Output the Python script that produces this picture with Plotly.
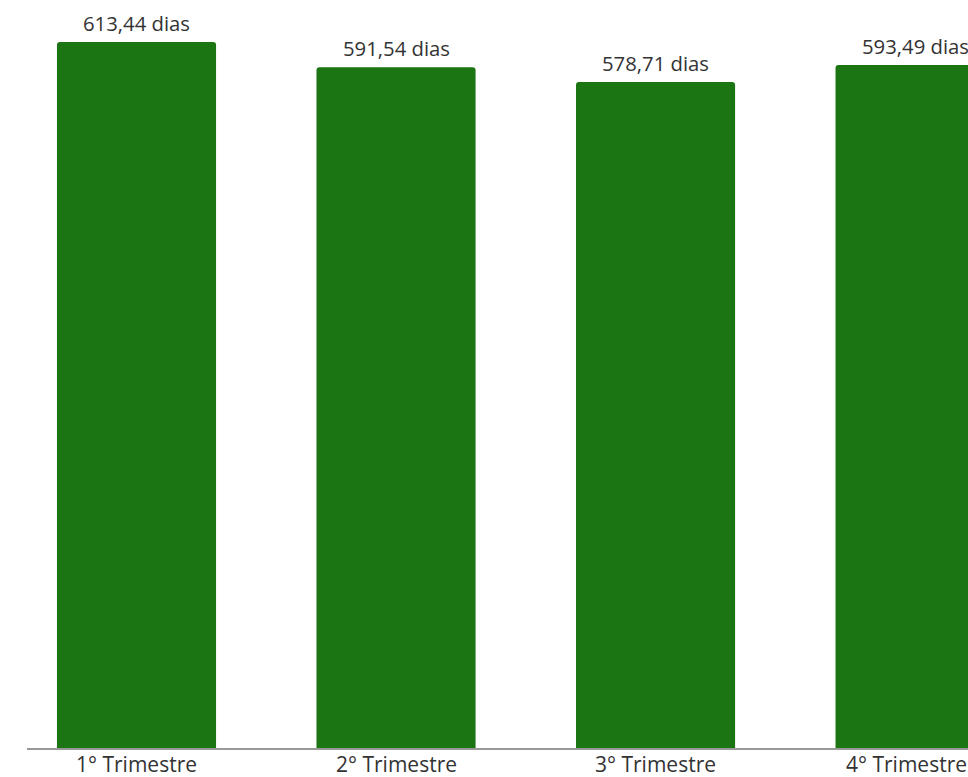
import plotly.graph_objects as go

categories = ["1° Trimestre", "2° Trimestre", "3° Trimestre", "4° Trimestre"]
values = [613.44, 591.54, 578.71, 593.49]
labels = [f"{v:.2f}".replace(".", ",") + " dias" for v in values]

FONT = "Open Sans"
TXT = "#333333"

fig = go.Figure(go.Bar(
    x=list(range(len(categories))),
    y=values,
    width=0.613,
    marker=dict(color="#1b7512", cornerradius=3, line=dict(width=0)),
    hoverinfo="skip",
))

# value labels above bars
for i, (v, t) in enumerate(zip(values, labels)):
    fig.add_annotation(
        x=i, y=v, text=t, showarrow=False,
        xanchor="center", yanchor="bottom", yshift=3,
        font=dict(family=FONT, size=20.3, color=TXT),
    )

# category labels under the axis (last one nudged so it stays inside the page)
for i, c in enumerate(categories):
    fig.add_annotation(
        x=i, y=0, text=c, showarrow=False,
        xanchor="center", yanchor="top", yshift=-1, borderpad=0,
        xshift=-9 if i == len(categories) - 1 else 0,
        font=dict(family=FONT, size=21, color=TXT),
    )

fig.update_layout(
    width=968, height=777,
    margin=dict(l=27, r=0, t=0, b=29),
    paper_bgcolor="white", plot_bgcolor="white",
    showlegend=False,
    font=dict(family=FONT, size=20, color=TXT),
    xaxis=dict(
        range=[-0.422, 3.204],
        tickmode="array",
        tickvals=list(range(len(categories))),
        ticktext=categories,
        showticklabels=False,
        showline=True, linecolor="#999999", linewidth=1.5,
        showgrid=False, zeroline=False, ticks="",
    ),
    yaxis=dict(
        range=[0, 650],
        showgrid=False, zeroline=False, showticklabels=False, showline=False,
    ),
)

fig.write_html(
    "out.html",
    config={"displayModeBar": False},
    post_script="document.body.style.margin='0';document.body.style.overflow='hidden';",
)
